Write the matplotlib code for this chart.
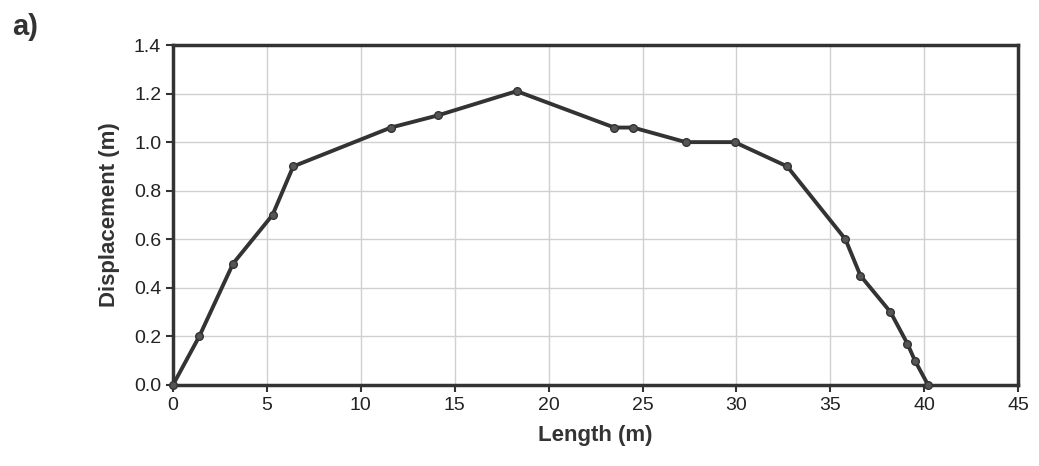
import matplotlib
matplotlib.use("Agg")
import matplotlib.pyplot as plt
import numpy as np

length_m = [0, 1.4, 3.2, 5.3, 6.4, 11.6, 14.1, 18.3, 23.5, 24.5, 27.3, 29.9, 32.7, 35.8, 36.6, 38.2, 39.1, 39.5, 40.2]
displacement_m = [0, 0.2, 0.5, 0.7, 0.9, 1.06, 1.11, 1.21, 1.06, 1.06, 1.0, 1.0, 0.9, 0.6, 0.45, 0.3, 0.17, 0.1, 0]
x_ticks = [0, 5, 10, 15, 20, 25, 30, 35, 40, 45]
y_ticks = [0.0, 0.2, 0.4, 0.6, 0.8, 1.0, 1.2, 1.4]

plt.rcParams['font.family'] = ['Liberation Sans', 'DejaVu Sans']

fig = plt.figure(figsize=(10.39, 4.66), dpi=100)
ax = fig.add_axes([0.1665, 0.174, 0.8135, 0.7294])

ax.plot(length_m, displacement_m, color='#333333', lw=2.8, marker='o', ms=5.5,
        markerfacecolor='#555555', markeredgecolor='#333333', zorder=3, clip_on=False)

ax.set_xlim(0, 45)
ax.set_ylim(0, 1.4)
ax.set_xticks(x_ticks)
ax.set_yticks(y_ticks)
ax.set_yticklabels([f"{v:.1f}" for v in y_ticks])
ax.grid(True, color='#d0d0d0', lw=1.0)
ax.set_axisbelow(True)
for s in ax.spines.values():
    s.set_linewidth(2.5)
    s.set_color('#333333')
ax.tick_params(axis='both', labelsize=14, length=5, width=1.5, color='#333333', labelcolor='#222222')
ax.set_xlabel('Length (m)', fontsize=16, fontweight='bold', color='#333333', labelpad=8)
ax.set_ylabel('Displacement (m)', fontsize=16, fontweight='bold', color='#333333', labelpad=10)

fig.text(0.012, 0.925, 'a)', fontsize=21, fontweight='bold', color='#333333')

fig.savefig('out.png', dpi=100)
